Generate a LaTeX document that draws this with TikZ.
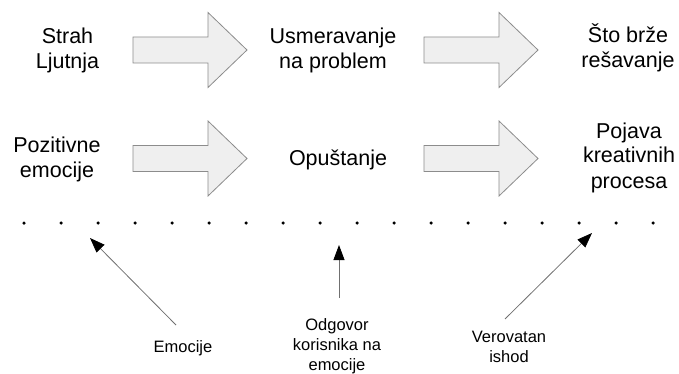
\documentclass[tikz,border=0pt]{standalone}
\usepackage{fontspec}
\setmainfont{Liberation Sans}
\usetikzlibrary{arrows.meta}
\definecolor{blkfill}{HTML}{EFEFEF}
\definecolor{blkdraw}{HTML}{8C8C8C}
\definecolor{pointer}{HTML}{707070}
\tikzset{
  bigtxt/.style={inner sep=0pt, align=center, font=\fontsize{21.5}{25}\selectfont},
  smalltxt/.style={inner sep=0pt, align=center, font=\fontsize{16.5}{20}\selectfont},
  blkarrow/.style={fill=blkfill, draw=blkdraw, line width=0.8pt, line join=miter},
  pointerline/.style={draw=pointer, line width=0.8pt, -{Triangle[length=15pt,width=11pt,fill=black,color=black]}},
  dotmark/.style={circle, fill=black, inner sep=0pt, minimum size=3.5pt},
  pics/bigarrow/.style={code={
    \path[blkarrow] (0,-13) -- (75,-13) -- (75,-37.5) -- (114,0) -- (75,37.5) -- (75,13) -- (0,13) -- cycle;
  }}
}
\begin{document}
\begin{tikzpicture}[x=1pt,y=-1pt]
\useasboundingbox (0,0) rectangle (679,374);
% block arrows
\pic (ba1) at (133,50) {bigarrow};
\pic (ba2) at (424,50) {bigarrow};
\pic (ba3) at (133,158.5) {bigarrow};
\pic (ba4) at (424,158.5) {bigarrow};
% texts (anchor base = baseline of last line)
\node[bigtxt, anchor=base] (t1) at (67.5,68.5) {Strah\\Ljutnja};
\node[bigtxt, anchor=base] (t2) at (333,68.5) {Usmeravanje\\na problem};
\node[bigtxt, anchor=base] (t3) at (628,68) {Što brže\\rešavanje};
\node[bigtxt, anchor=base] (t4) at (57,178) {Pozitivne\\emocije};
\node[bigtxt, anchor=base] (t5) at (338,166) {Opuštanje};
\node[bigtxt, anchor=base] (t6) at (629,188) {Pojava\\kreativnih\\procesa};
% dots
\foreach \i in {0,...,17} {
  \node[dotmark] (d\i) at ({24+37*\i},223) {};
}
% labels
\node[smalltxt, anchor=base] (l1) at (183,352) {Emocije};
\node[smalltxt, anchor=base] (l2) at (337,370) {Odgovor\\korisnika na\\emocije};
\node[smalltxt, anchor=base] (l3) at (509,362) {Verovatan\\ishod};
% pointers
\coordinate (p1s) at (176,325);
\coordinate (p1e) at (90,238);
\coordinate (p2s) at (339,298);
\coordinate (p2e) at (339,245);
\coordinate (p3s) at (505,319);
\coordinate (p3e) at (592,233);
\draw[pointerline] (p1s) -- (p1e);
\draw[pointerline] (p2s) -- (p2e);
\draw[pointerline] (p3s) -- (p3e);
\end{tikzpicture}
\end{document}
